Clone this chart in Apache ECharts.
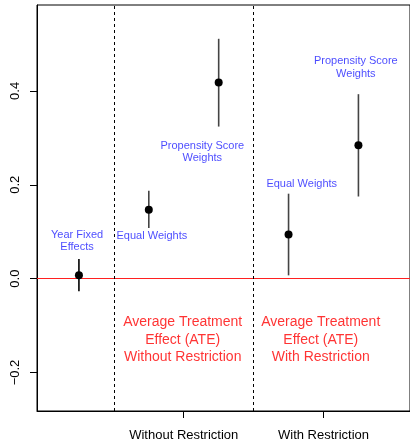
<!DOCTYPE html>
<html><head><meta charset="utf-8">
<script src="https://cdn.jsdelivr.net/npm/echarts@6/dist/echarts.min.js"></script>
<style>html,body{margin:0;padding:0;background:#fff}#c{width:410px;height:442px}</style>
</head><body><div id="c"></div>
<script>
// Data
var positions = [1, 2, 3, 4, 5];
var estimates = [0.007, 0.147, 0.418, 0.094, 0.284];
var lowerCI = [-0.027, 0.108, 0.324, 0.007, 0.175];
var upperCI = [0.042, 0.187, 0.511, 0.181, 0.393];
var groupTickPositions = [2.5, 4.5];
var groupTickLabels = ['Without Restriction', 'With Restriction'];
var dividers = [1.5, 3.5];
var yTicks = [-0.2, 0.0, 0.2, 0.4];
var methodLabels = ['Year Fixed\nEffects', 'Equal Weights', 'Propensity Score\nWeights', 'Equal Weights', 'Propensity Score\nWeights'];
var methodLabelX = [0.973, 2.044, 2.766, 4.189, 4.963];
var methodLabelY = [0.080, 0.0915, 0.270, 0.202, 0.450];
var groupNotes = ['Average Treatment\nEffect (ATE)\nWithout Restriction', 'Average Treatment\nEffect (ATE)\nWith Restriction'];
var groupNoteX = [2.485, 4.461];
var groupNoteY = [-0.131, -0.131];

var FONT = '"Liberation Sans", Arial, Helvetica, sans-serif';
var chart = echarts.init(document.getElementById('c'), null, {renderer: 'canvas'});

var tickMap = {};
groupTickPositions.forEach(function (p, i) { tickMap[p] = groupTickLabels[i]; });

chart.setOption({
  animation: false,
  backgroundColor: '#fff',
  grid: {left: 37, top: 5, bottom: 30, right: -6, show: true, borderColor: '#000', borderWidth: 1, backgroundColor: 'transparent'},
  xAxis: {
    type: 'value', min: 0.4, max: 5.738,
    splitLine: {show: false},
    axisLine: {show: true, onZero: false, lineStyle: {color: '#000', width: 1}},
    axisTick: {show: true, length: 7, customValues: groupTickPositions, lineStyle: {color: '#000'}},
    axisLabel: {show: true, customValues: groupTickPositions, margin: 18, fontFamily: FONT, fontSize: 13, color: '#000',
      formatter: function (v) { return tickMap[v] || ''; }}
  },
  yAxis: {
    type: 'value', min: -0.282, max: 0.583,
    splitLine: {show: false},
    axisLine: {show: true, onZero: false, lineStyle: {color: '#000', width: 1}},
    axisTick: {show: true, length: 7, customValues: yTicks, lineStyle: {color: '#000'}},
    axisLabel: {show: true, customValues: yTicks, rotate: 90, margin: 15, fontFamily: FONT, fontSize: 13, color: '#000',
      formatter: function (v) { return v.toFixed(1).replace('-', '\u2212'); }}
  },
  series: [
    {
      type: 'line', data: [], silent: true,
      markLine: {
        silent: true, symbol: 'none', label: {show: false},
        lineStyle: {color: '#ff2020', type: 'solid', width: 1.2, opacity: 1},
        data: [{yAxis: 0}]
      },
      z: 2
    },
    {
      type: 'line', data: [], silent: true,
      markLine: {
        silent: true, symbol: 'none', label: {show: false},
        lineStyle: {color: '#000', type: [3, 3], width: 1, opacity: 1},
        data: dividers.map(function (d) { return {xAxis: d}; })
      },
      z: 2
    },
    {
      type: 'custom',
      silent: true,
      renderItem: function (params, api) {
        var x = api.value(0), lo = api.value(1), hi = api.value(2);
        var p1 = api.coord([x, lo]), p2 = api.coord([x, hi]);
        return {type: 'line', shape: {x1: p1[0], y1: p1[1], x2: p2[0], y2: p2[1]},
          style: {stroke: params.dataIndex === 0 ? '#000' : '#444', lineWidth: 1.6}};
      },
      data: positions.map(function (p, i) { return [p, lowerCI[i], upperCI[i]]; }),
      z: 3
    },
    {
      type: 'scatter', symbol: 'circle', symbolSize: 8,
      itemStyle: {color: '#000', opacity: 1},
      data: positions.map(function (p, i) { return [p, estimates[i]]; }),
      z: 5
    },
    {
      type: 'scatter', symbolSize: 0, silent: true,
      label: {show: true, position: 'inside', color: '#1a1aff', fontFamily: FONT, fontSize: 11, lineHeight: 12.5, align: 'center', verticalAlign: 'middle',
        formatter: function (p) { return methodLabels[p.dataIndex]; }},
      data: methodLabelX.map(function (x, i) { return [x, methodLabelY[i]]; }),
      z: 6
    },
    {
      type: 'scatter', symbolSize: 0, silent: true,
      label: {show: true, position: 'inside', color: '#ff0000', fontFamily: FONT, fontSize: 14, lineHeight: 17.5, align: 'center', verticalAlign: 'middle',
        formatter: function (p) { return groupNotes[p.dataIndex]; }},
      data: groupNoteX.map(function (x, i) { return [x, groupNoteY[i]]; }),
      z: 6
    }
  ]
});
</script></body></html>
